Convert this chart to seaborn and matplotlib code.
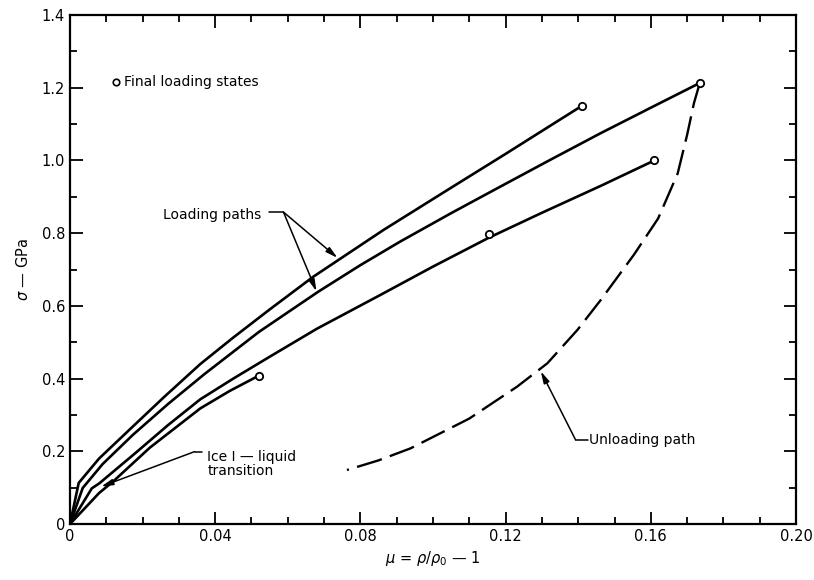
import matplotlib
matplotlib.use("Agg")
import matplotlib.pyplot as plt
from matplotlib.ticker import MultipleLocator, FixedLocator, FixedFormatter
import pandas as pd
import seaborn as sns

# Loading paths (strain mu, stress sigma in GPa)
path_a_mu = [0.0, 0.0024, 0.008, 0.0173, 0.026, 0.0359, 0.045, 0.055, 0.067, 0.0864, 0.105,
             0.120, 0.1343, 0.141]
path_a_sigma = [0.0, 0.113, 0.180, 0.268, 0.350, 0.440, 0.513, 0.590, 0.680, 0.809, 0.925,
                1.018, 1.108, 1.150]

path_b_mu = [0.0, 0.0035, 0.009, 0.0173, 0.027, 0.037, 0.052, 0.0684, 0.080, 0.091, 0.105,
             0.118, 0.132, 0.1462, 0.160, 0.1735]
path_b_sigma = [0.0, 0.099, 0.165, 0.245, 0.330, 0.412, 0.528, 0.639, 0.712, 0.777, 0.855,
                0.925, 1.000, 1.075, 1.145, 1.213]

path_c_mu = [0.0, 0.006, 0.0081, 0.018, 0.027, 0.0359, 0.045, 0.055, 0.068, 0.0855, 0.100,
             0.1153, 0.130, 0.1462, 0.161]
path_c_sigma = [0.0, 0.098, 0.112, 0.195, 0.272, 0.343, 0.400, 0.460, 0.537, 0.630, 0.708,
                0.787, 0.856, 0.930, 1.000]

path_d_mu = [0.0, 0.008, 0.012, 0.022, 0.0359, 0.044, 0.052]
path_d_sigma = [0.0, 0.085, 0.118, 0.210, 0.318, 0.366, 0.408]

# Unloading path from the highest final state
unload_mu = [0.1735, 0.1719, 0.1700, 0.1674, 0.1620, 0.1553, 0.1462, 0.1398, 0.1315, 0.1232,
             0.1100, 0.0938, 0.0850, 0.0763]
unload_sigma = [1.213, 1.158, 1.070, 0.964, 0.840, 0.740, 0.616, 0.534, 0.442, 0.378,
                0.290, 0.208, 0.175, 0.1485]

# Final loading states
final_mu = [0.052, 0.1153, 0.141, 0.161, 0.1735]
final_sigma = [0.408, 0.798, 1.150, 1.000, 1.213]

x_ticks = [0, 0.04, 0.08, 0.12, 0.16, 0.20]
x_tick_labels = ["0", "0.04", "0.08", "0.12", "0.16", "0.20"]
y_ticks = [0, 0.2, 0.4, 0.6, 0.8, 1.0, 1.2, 1.4]
y_tick_labels = ["0", "0.2", "0.4", "0.6", "0.8", "1.0", "1.2", "1.4"]

sns.set_style("ticks")
plt.rcParams["font.family"] = ["DejaVu Sans"]
plt.rcParams["text.color"] = "black"
plt.rcParams["axes.labelcolor"] = "black"
plt.rcParams["lines.solid_joinstyle"] = "round"
plt.rcParams["lines.solid_capstyle"] = "round"

loading = pd.concat([
    pd.DataFrame({"mu": path_a_mu, "sigma": path_a_sigma, "path": "a"}),
    pd.DataFrame({"mu": path_b_mu, "sigma": path_b_sigma, "path": "b"}),
    pd.DataFrame({"mu": path_c_mu, "sigma": path_c_sigma, "path": "c"}),
    pd.DataFrame({"mu": path_d_mu, "sigma": path_d_sigma, "path": "d"}),
], ignore_index=True)
unloading = pd.DataFrame({"mu": unload_mu, "sigma": unload_sigma})
finals = pd.DataFrame({"mu": final_mu, "sigma": final_sigma})

fig = plt.figure(figsize=(8.14, 5.8), dpi=100)
ax = fig.add_axes([70 / 814, 56 / 580, 726 / 814, 509 / 580])

sns.lineplot(data=loading, x="mu", y="sigma", units="path", estimator=None, sort=False,
             color="black", linewidth=1.9, ax=ax, legend=False)
sns.lineplot(data=unloading, x="mu", y="sigma", sort=False, estimator=None,
             color="black", linewidth=1.7, dashes=False, ax=ax, legend=False)
ax.lines[-1].set_dashes((11, 3.6))
sns.scatterplot(data=finals, x="mu", y="sigma", marker="o", s=28, facecolor="white",
                edgecolor="black", linewidth=1.3, zorder=5, ax=ax, legend=False)

ax.set_xlim(0, 0.20)
ax.set_ylim(0, 1.4)
ax.xaxis.set_major_locator(FixedLocator(x_ticks))
ax.xaxis.set_major_formatter(FixedFormatter(x_tick_labels))
ax.yaxis.set_major_locator(FixedLocator(y_ticks))
ax.yaxis.set_major_formatter(FixedFormatter(y_tick_labels))
ax.xaxis.set_minor_locator(MultipleLocator(0.01))
ax.yaxis.set_minor_locator(MultipleLocator(0.1))
ax.tick_params(which="both", direction="in", top=True, right=True, width=1.3, colors="black",
               labelsize=10.5)
ax.tick_params(which="major", length=9)
ax.tick_params(which="minor", length=5)
for side in ax.spines.values():
    side.set_linewidth(1.6)
    side.set_color("black")

ax.set_xlabel(r"$\mu$ = $\rho/\rho_0$ — 1", fontsize=10.5, labelpad=4)
ax.set_ylabel(r"$\sigma$ — GPa", fontsize=10.5, labelpad=8)

# Key for the open circles
ax.scatter([0.0127], [1.216], marker="o", s=22, facecolor="white", edgecolor="black",
           linewidth=1.2, zorder=5)
ax.text(0.0148, 1.216, "Final loading states", fontsize=10, va="center", ha="left")

arrow_kw = dict(arrowstyle="-|>,head_length=0.7,head_width=0.18", color="black", lw=1.1,
                shrinkA=0, shrinkB=0)

# Loading paths callout
ax.text(0.0257, 0.85, "Loading paths", fontsize=10, va="center", ha="left")
ax.plot([0.0547, 0.0588], [0.858, 0.858], color="black", lw=1.1)
ax.annotate("", xy=(0.0737, 0.732), xytext=(0.0588, 0.858), arrowprops=arrow_kw)
ax.annotate("", xy=(0.0679, 0.640), xytext=(0.0588, 0.858), arrowprops=arrow_kw)

# Phase transition callout
ax.text(0.0378, 0.203, "Ice I — liquid\ntransition", fontsize=10, va="top", ha="left",
        linespacing=0.95)
ax.plot([0.0343, 0.0365], [0.199, 0.199], color="black", lw=1.1)
ax.annotate("", xy=(0.0086, 0.103), xytext=(0.0343, 0.199), arrowprops=arrow_kw)

# Unloading callout
ax.text(0.1430, 0.231, "Unloading path", fontsize=10, va="center", ha="left")
ax.plot([0.1393, 0.1426], [0.231, 0.231], color="black", lw=1.1)
ax.annotate("", xy=(0.1297, 0.420), xytext=(0.1393, 0.231), arrowprops=arrow_kw)

fig.savefig("out.png", dpi=100)
